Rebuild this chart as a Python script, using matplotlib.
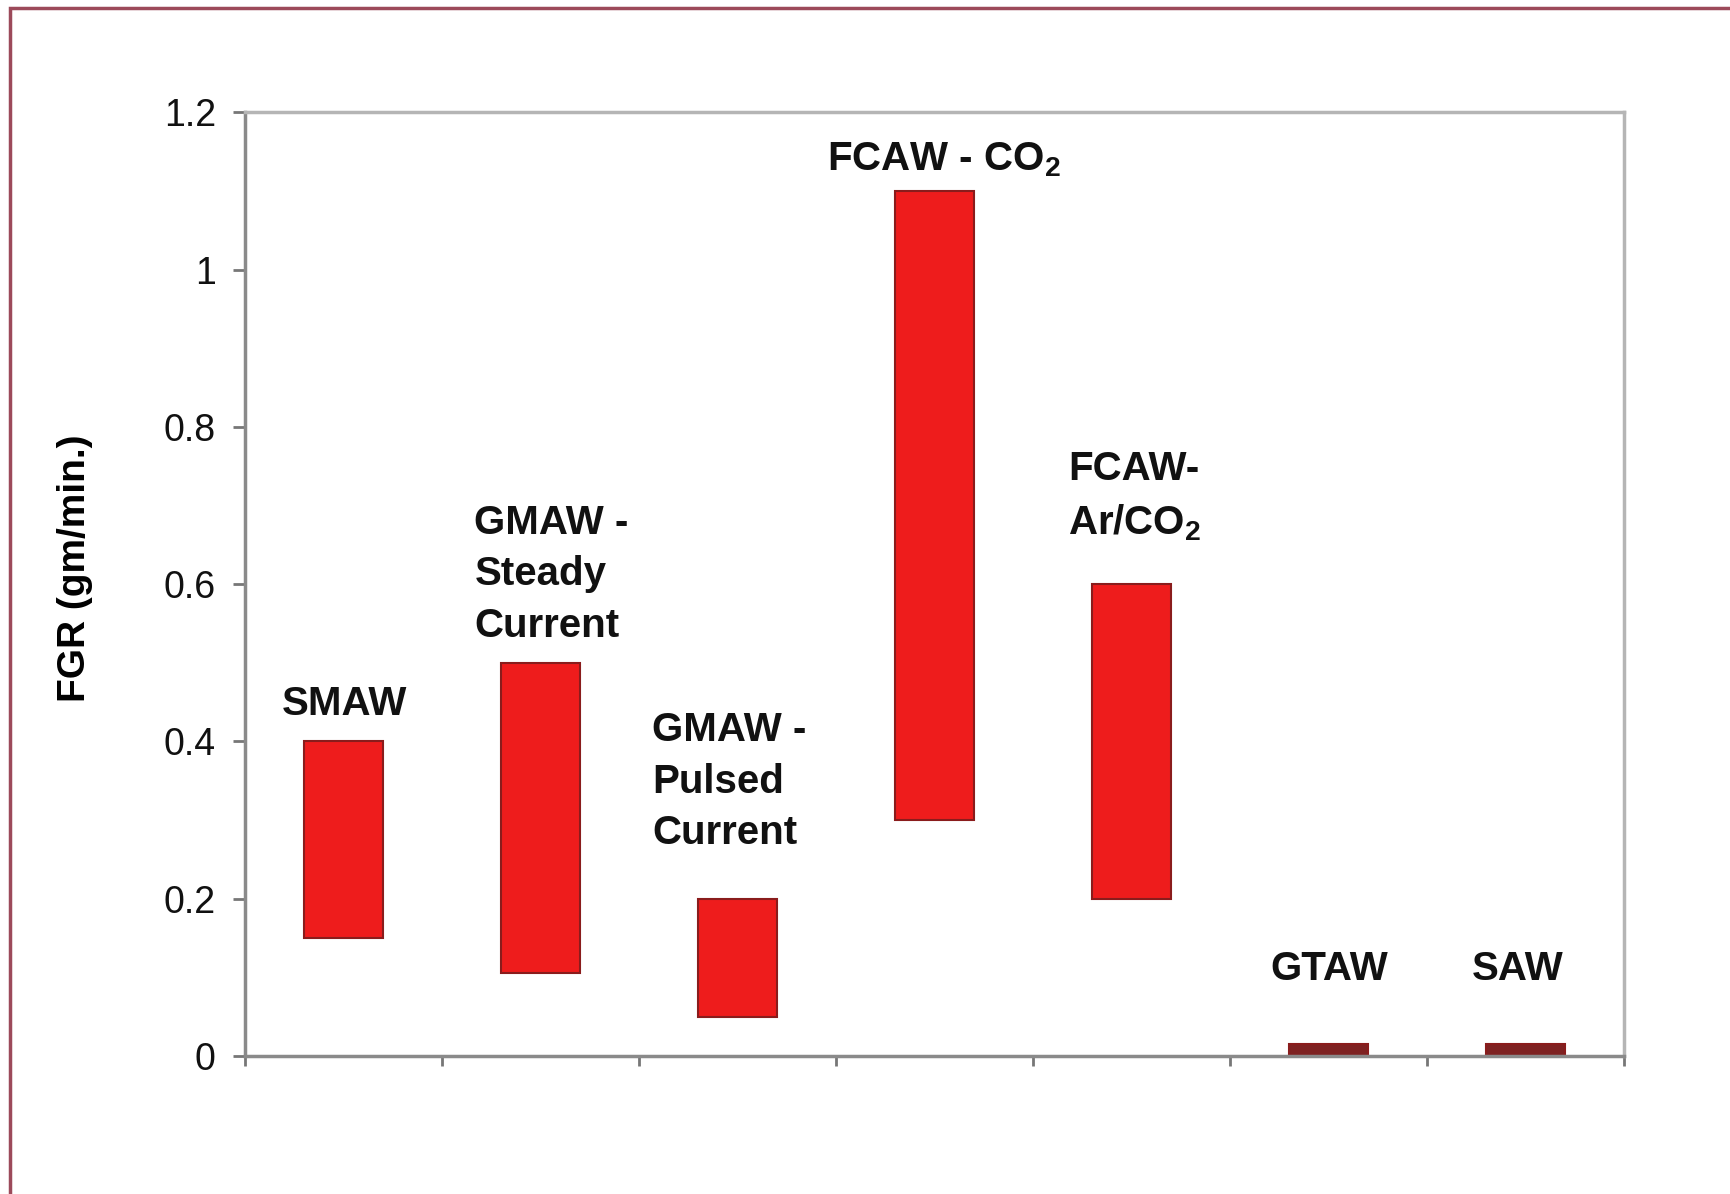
import numpy as np
import matplotlib
matplotlib.use('Agg')
import matplotlib.pyplot as plt
from matplotlib.patches import Rectangle
from matplotlib.ticker import FormatStrFormatter

plt.rcParams['font.family'] = ['Liberation Sans', 'DejaVu Sans']

# fume generation rate ranges (gm/min.)
processes = ['SMAW', 'GMAW - Steady Current', 'GMAW - Pulsed Current',
             'FCAW - CO2', 'FCAW- Ar/CO2', 'GTAW', 'SAW']
fgr_low = [0.15, 0.105, 0.05, 0.30, 0.20, 0.0, 0.0]
fgr_high = [0.40, 0.50, 0.20, 1.10, 0.60, 0.015, 0.015]
labels = ['SMAW', 'GMAW -\nSteady\nCurrent', 'GMAW -\nPulsed\nCurrent',
          r'FCAW - CO$_\mathregular{2}$', 'FCAW-\nAr/CO$_\\mathregular{2}$',
          'GTAW', 'SAW']
yticks = [0, 0.2, 0.4, 0.6, 0.8, 1.0, 1.2]

fig = plt.figure(figsize=(17.3, 11.94), dpi=100)
ax = fig.add_axes([0.1416, 0.1156, 0.7971, 0.7902])

x = np.arange(len(processes)) + 0.5
heights = np.array(fgr_high) - np.array(fgr_low)
# very thin ranges show up as dark slivers in the original
colors = ['#7e2222' if h < 0.05 else '#ee1c1c' for h in heights]
ax.bar(x, heights, bottom=fgr_low, width=0.4, color=colors,
       edgecolor='#8a1c1c', linewidth=1.5)

# label positions: (x, y, ha)
pos = [(0.504, 0.448, 'center'), (1.165, 0.613, 'left'), (2.066, 0.349, 'left'),
       (2.956, 1.140, 'left'), (4.177, 0.712, 'left'), (5.504, 0.111, 'center'),
       (6.46, 0.111, 'center')]
for lab, (px, py, ha) in zip(labels, pos):
    ax.text(px, py, lab, ha=ha, va='center', fontsize=29, fontweight='bold',
            linespacing=1.45, color='#111111')

ax.set_xlim(0, 7)
ax.set_ylim(0, 1.2)
ax.set_xticks(np.arange(8))
ax.set_xticklabels([])
ax.set_yticks(yticks)
ax.yaxis.set_major_formatter(FormatStrFormatter('%g'))
ax.tick_params(axis='y', labelsize=27, length=9, width=2, color='#777777', pad=12,
               labelcolor='#111111')
ax.tick_params(axis='x', length=7, width=2, color='#777777')
ax.set_ylabel('FGR (gm/min.)', fontsize=28, fontweight='bold', va='center')
ax.yaxis.set_label_coords(-0.123, 0.517)

for s in ['left', 'bottom']:
    ax.spines[s].set_color('#8a8a8a')
    ax.spines[s].set_linewidth(2.5)
for s in ['top', 'right']:
    ax.spines[s].set_color('#b5b5b5')
    ax.spines[s].set_linewidth(2.5)

# frame of the original figure (cropped on right and bottom)
fig.patches.append(Rectangle((10 / 1730, -0.1), 1.2, 1 - 8 / 1194 + 0.1,
                             transform=fig.transFigure, fill=False,
                             edgecolor='#9c4a5a', linewidth=2.5))

fig.savefig('out.png', dpi=100, facecolor='white')
